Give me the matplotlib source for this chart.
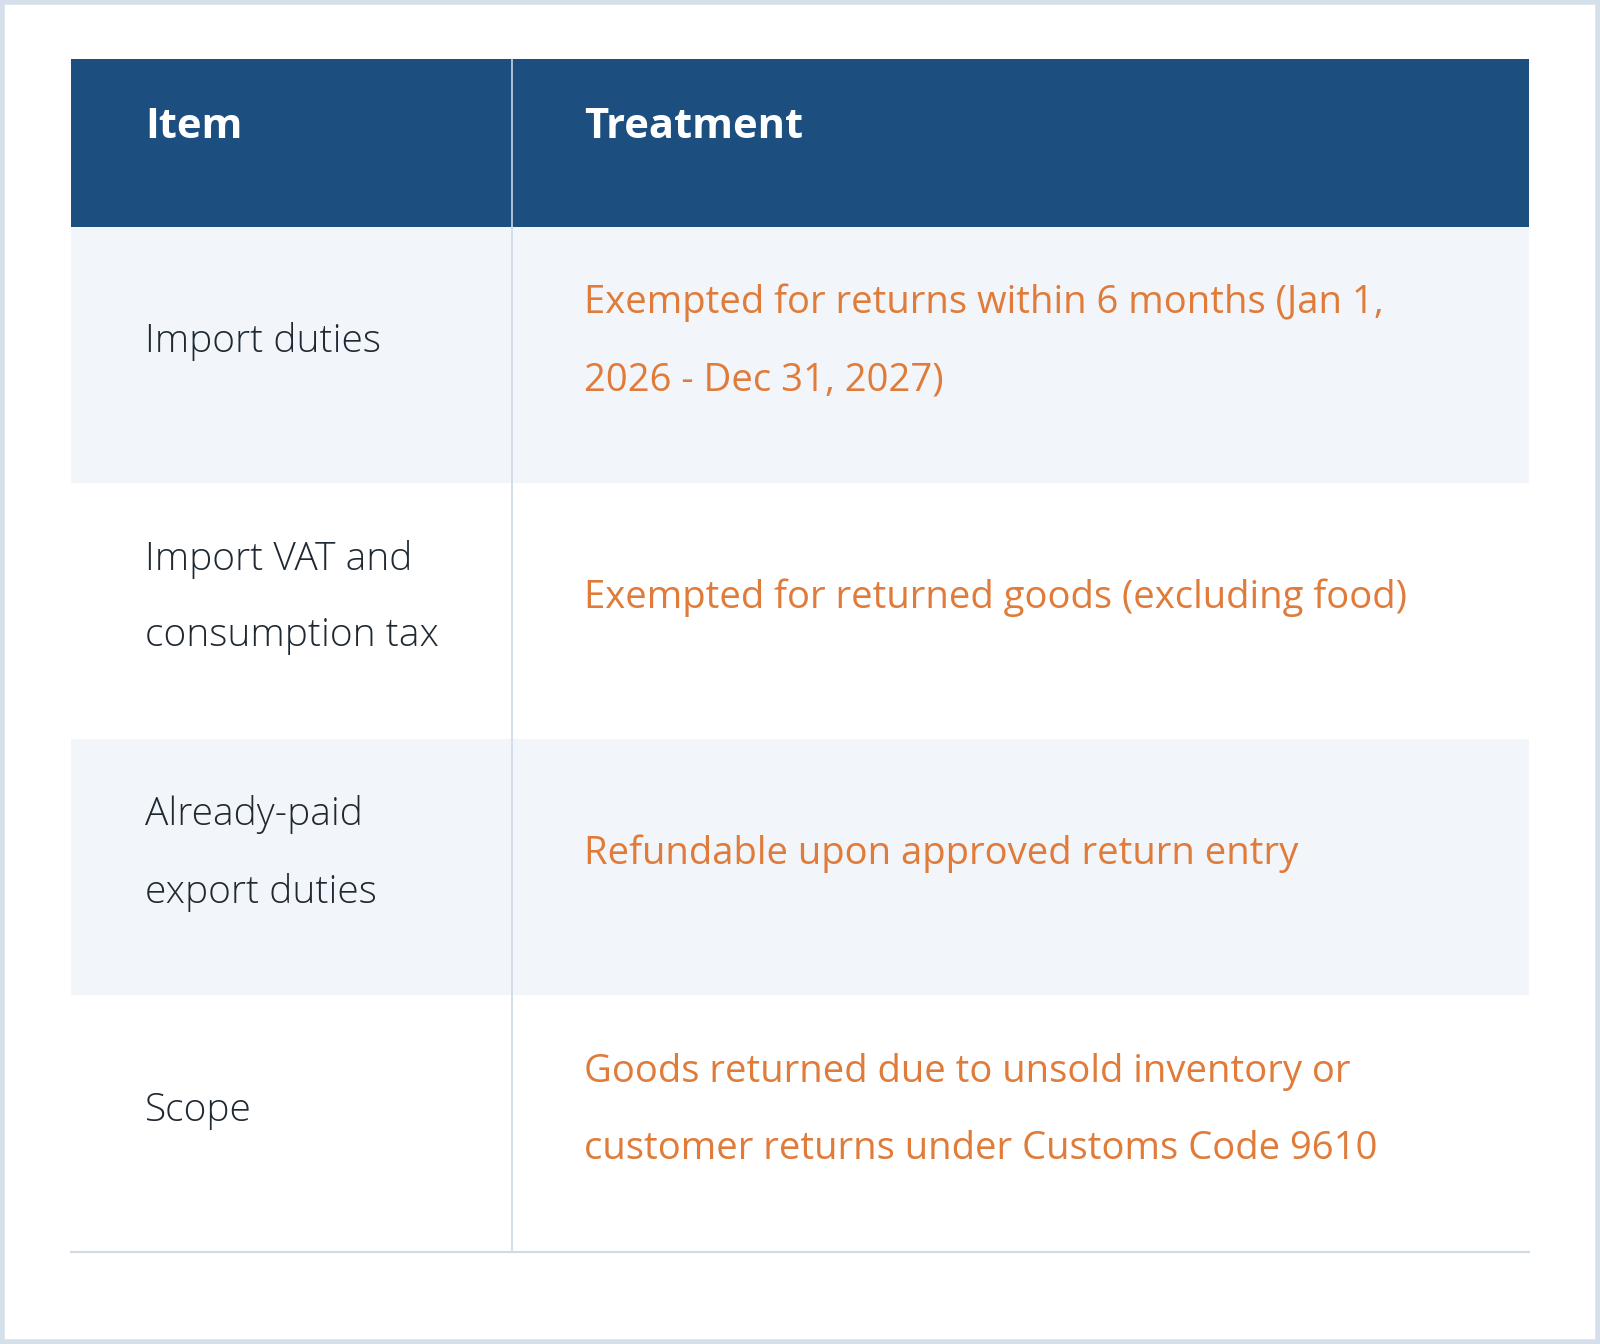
import matplotlib.pyplot as plt
from matplotlib.patches import Rectangle

header = ["Item", "Treatment"]
items = ["Import duties", "Import VAT and\nconsumption tax", "Already-paid\nexport duties", "Scope"]
treatments = ["Exempted for returns within 6 months (Jan 1,\n2026 - Dec 31, 2027)",
              "Exempted for returned goods (excluding food)",
              "Refundable upon approved return entry",
              "Goods returned due to unsold inventory or\ncustomer returns under Customs Code 9610"]

fig = plt.figure(figsize=(16, 13.44), dpi=100)
fig.patch.set_facecolor("white")
ax = fig.add_axes([0, 0, 1, 1])
ax.set_xlim(0, 1568)
ax.set_ylim(1317, 0)
ax.axis("off")

# outer border
ax.add_patch(Rectangle((1.5, 1.5), 1565, 1314, fill=False, ec="#d6e0ea", lw=4))

x0, xdiv, x1 = 70, 502, 1498
tops = [58, 222, 473, 724, 975, 1227]

ax.add_patch(Rectangle((x0, tops[0]), x1 - x0, tops[1] - tops[0], fc="#1c4f80", ec="none"))
ax.plot([xdiv, xdiv], [tops[0], tops[1]], color="#c8d6e5", lw=1.2)
ax.text(142, 125, header[0], color="white", fontsize=30, fontweight="bold", family="Open Sans", va="center")
ax.text(572, 125, header[1], color="white", fontsize=30, fontweight="bold", family="Open Sans", va="center")

for i, (it, tr) in enumerate(zip(items, treatments)):
    ya, yb = tops[i + 1], tops[i + 2]
    if i % 2 == 0:
        ax.add_patch(Rectangle((x0, ya), x1 - x0, yb - ya, fc="#f2f6fa", ec="none"))
    yc = (ya + yb) / 2 - 13
    ax.text(142, yc, it, color="#1f2933", fontsize=28, fontweight="light", family="Open Sans",
            va="center", linespacing=2.3)
    ax.text(572, yc, tr, color="#e07b39", fontsize=27.5, family="Open Sans",
            va="center", linespacing=2.35)
    ax.plot([xdiv, xdiv], [ya, yb], color="#d0dae6", lw=1.2)

ax.plot([x0, x1], [tops[-1], tops[-1]], color="#d0dae6", lw=1.5)

fig.savefig("out.png", dpi=100, facecolor="white")
